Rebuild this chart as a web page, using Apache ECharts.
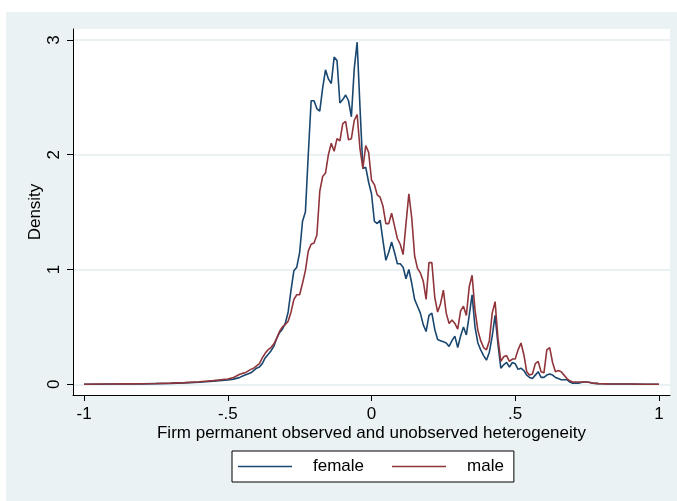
<!DOCTYPE html>
<html>
<head>
<meta charset="utf-8">
<script src="https://cdn.jsdelivr.net/npm/echarts@6/dist/echarts.min.js"></script>
<style>
html,body{margin:0;padding:0;background:#ffffff;}
#chart{width:677px;height:501px;}
</style>
</head>
<body>
<div id="chart"></div>
<script>
// x grid of the density estimate
var xs = [-1.00,-0.95,-0.90,-0.85,-0.80,-0.75,-0.70,-0.65,-0.60,-0.55,-0.50,-0.48,-0.46,
-0.45,-0.44,-0.43,-0.42,-0.41,-0.40,-0.39,-0.38,-0.37,-0.36,-0.35,-0.34,-0.33,-0.32,-0.31,-0.30,
-0.29,-0.28,-0.27,-0.26,-0.25,-0.24,-0.23,-0.22,-0.21,-0.20,-0.19,-0.18,-0.17,-0.16,-0.15,-0.14,
-0.13,-0.12,-0.11,-0.10,-0.09,-0.08,-0.07,-0.06,-0.05,-0.04,-0.03,-0.02,-0.01,0.00,
0.01,0.02,0.03,0.04,0.05,0.06,0.07,0.08,0.09,0.10,0.11,0.12,0.13,0.14,0.15,0.16,0.17,0.18,0.19,0.20,
0.21,0.22,0.23,0.24,0.25,0.26,0.27,0.28,0.29,0.30,0.31,0.32,0.33,0.34,0.35,0.36,0.37,0.38,0.39,0.40,
0.41,0.42,0.43,0.44,0.45,0.46,0.47,0.48,0.49,0.50,0.51,0.52,0.53,0.54,0.55,0.56,0.57,0.58,0.59,0.60,
0.61,0.62,0.63,0.64,0.65,0.66,0.67,0.68,0.69,0.70,0.71,0.72,0.73,0.74,0.75,0.76,0.77,0.78,0.79,0.80,
0.82,0.85,0.90,0.95,1.00];

var female = [0.001,0.001,0.002,0.003,0.004,0.006,0.008,0.012,0.018,0.026,0.037,0.045,0.058,
0.07,0.08,0.09,0.10,0.12,0.14,0.15,0.18,0.23,0.26,0.29,0.33,0.40,0.45,0.48,0.53,
0.63,0.82,0.99,1.02,1.15,1.42,1.50,2.00,2.47,2.47,2.40,2.38,2.58,2.74,2.66,2.62,
2.85,2.82,2.45,2.48,2.52,2.47,2.33,2.75,2.98,2.41,1.88,1.89,1.76,1.66,
1.42,1.40,1.43,1.25,1.08,1.15,1.24,1.15,1.05,1.05,1.02,0.92,1.00,0.88,0.74,0.68,0.62,0.52,0.46,0.60,
0.62,0.48,0.39,0.38,0.37,0.36,0.33,0.38,0.42,0.32,0.42,0.50,0.43,0.60,0.78,0.50,0.36,0.30,0.25,0.21,
0.28,0.42,0.60,0.35,0.14,0.17,0.19,0.15,0.19,0.18,0.13,0.14,0.12,0.08,0.06,0.05,0.08,0.11,0.06,0.06,
0.08,0.09,0.08,0.06,0.05,0.04,0.04,0.04,0.02,0.01,0.01,0.01,0.015,0.02,0.02,0.015,0.01,0.008,0.006,0.005,
0.004,0.003,0.002,0.001,0.0005];

var male = [0.001,0.002,0.002,0.004,0.005,0.007,0.010,0.015,0.022,0.032,0.046,0.060,0.085,
0.095,0.10,0.115,0.13,0.14,0.16,0.18,0.23,0.27,0.30,0.32,0.35,0.40,0.46,0.50,0.52,
0.55,0.63,0.74,0.78,0.78,0.88,0.99,1.16,1.22,1.23,1.30,1.68,1.81,1.84,2.00,2.10,
2.03,2.14,2.12,2.27,2.29,2.13,2.14,2.30,2.35,2.05,1.88,2.08,2.02,1.78,
1.74,1.65,1.63,1.55,1.40,1.40,1.49,1.38,1.27,1.22,1.13,1.40,1.66,1.45,1.12,1.01,0.97,0.90,0.74,1.06,
1.06,0.76,0.63,0.70,0.82,0.62,0.53,0.56,0.53,0.48,0.64,0.68,0.60,0.85,0.95,0.65,0.47,0.38,0.32,0.30,
0.38,0.62,0.72,0.40,0.20,0.24,0.25,0.20,0.22,0.22,0.30,0.36,0.26,0.11,0.08,0.09,0.18,0.20,0.11,0.10,
0.30,0.32,0.19,0.11,0.12,0.11,0.08,0.05,0.03,0.02,0.02,0.02,0.02,0.02,0.02,0.015,0.01,0.008,0.006,0.005,
0.004,0.003,0.002,0.001,0.0005];

var xTicks = [-1, -0.5, 0, 0.5, 1];
var xTickLabels = ['-1', '-.5', '0', '.5', '1'];
var yTicks = [0, 1, 2, 3];
var seriesNames = ['female', 'male'];

function pairs(ys){ return xs.map(function(x,i){ return [x, ys[i]]; }); }
function fmtX(v){
  for (var i=0;i<xTicks.length;i++){ if (Math.abs(v-xTicks[i])<1e-9) return xTickLabels[i]; }
  return '';
}

var FONT = 'Liberation Sans, Arial, Helvetica, sans-serif';
var chart = echarts.init(document.getElementById('chart'), null, {renderer:'canvas'});
chart.setOption({
  animation: false,
  backgroundColor: '#ffffff',
  graphic: [{
    type: 'rect', z: -10, silent: true,
    shape: {x: 6, y: 12, width: 671, height: 489},
    style: {fill: '#eaf2f3'}
  }],
  grid: {
    left: 73, right: 7, top: 29, bottom: 106,
    show: true, backgroundColor: '#ffffff', borderWidth: 0
  },
  xAxis: {
    type: 'value',
    min: -1.0386, max: 1.0386,
    name: 'Firm permanent observed and unobserved heterogeneity',
    nameLocation: 'middle', nameGap: 30, nameMoveOverlap: false,
    nameTextStyle: {fontFamily: FONT, fontSize: 17, color: '#000'},
    axisLine: {show: true, onZero: false, lineStyle: {color: '#000', width: 1}},
    axisTick: {show: true, length: 6, customValues: xTicks, lineStyle: {color: '#000'}},
    axisLabel: {customValues: xTicks, formatter: fmtX, margin: 11,
      fontFamily: FONT, fontSize: 17, color: '#000', showMinLabel: true, showMaxLabel: true},
    splitLine: {show: false}
  },
  yAxis: {
    type: 'value',
    min: -0.0932, max: 3.095,
    name: 'Density',
    nameLocation: 'middle', nameGap: 29, nameRotate: 90, nameMoveOverlap: false,
    nameTextStyle: {fontFamily: FONT, fontSize: 17, color: '#000'},
    axisLine: {show: true, onZero: false, lineStyle: {color: '#000', width: 1}},
    axisTick: {show: true, length: 6, customValues: yTicks, lineStyle: {color: '#000'}},
    axisLabel: {customValues: yTicks, rotate: 90, margin: 10,
      fontFamily: FONT, fontSize: 17, color: '#000',
      formatter: function(v){ return String(v); }},
    splitLine: {show: true, customValues: yTicks, lineStyle: {color: '#e3ecee', width: 1.5}}
  },
  legend: {
    data: seriesNames,
    left: 232, top: 451,
    orient: 'horizontal',
    backgroundColor: '#ffffff',
    borderColor: '#000', borderWidth: 1, borderRadius: 0,
    padding: [7, 10, 7, 6],
    icon: 'rect', itemWidth: 54, itemHeight: 1.5, itemGap: 28,
    textStyle: {fontFamily: FONT, fontSize: 17, color: '#000', padding: [0, 0, 0, 16]}
  },
  series: [
    {name: seriesNames[0], type: 'line', data: pairs(female), showSymbol: false, symbol: 'none',
     lineStyle: {color: '#1a476f', width: 1.6}, itemStyle: {color: '#1a476f'}},
    {name: seriesNames[1], type: 'line', data: pairs(male), showSymbol: false, symbol: 'none',
     lineStyle: {color: '#90353b', width: 1.6}, itemStyle: {color: '#90353b'}}
  ]
});
</script>
</body>
</html>
